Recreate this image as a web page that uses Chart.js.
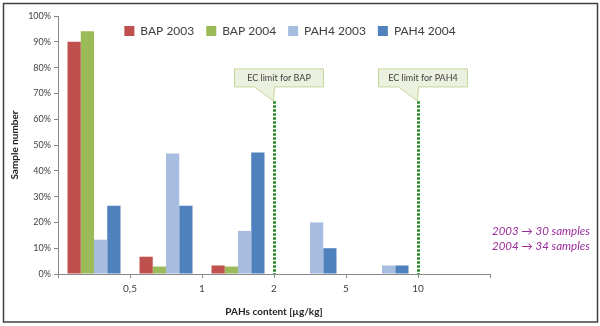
<!DOCTYPE html>
<html>
<head>
<meta charset="utf-8">
<script src="https://cdn.jsdelivr.net/npm/chart.js@4/dist/chart.umd.min.js"></script>
<style>
html,body{margin:0;padding:0;background:#fff;}
#wrap{width:600px;height:326px;position:relative;}
</style>
</head>
<body>
<div id="wrap"><canvas id="c" width="600" height="326"></canvas></div>
<script>
// ---- data ----
const categories = ['0-0,5', '0,5-1', '1-2', '2-5', '5-10', '>10'];
const boundaryLabels = ['', '0,5', '1', '2', '5', '10', ''];
const bap2003 = [90, 6.7, 3.3, 0, 0, 0];
const bap2004 = [94.1, 2.9, 2.9, 0, 0, 0];
const pah2003 = [13.3, 46.7, 16.7, 20, 3.3, 0];
const pah2004 = [26.5, 26.5, 47.1, 10, 3.3, 0];
const ecLimits = [
  { text: 'EC limit for BAP', at: 3 },
  { text: 'EC limit for PAH4', at: 5 }
];
const sampleNotes = ['2003 \u2192 30 samples', '2004 \u2192 34 samples'];

const FONT = 'Lato, "Liberation Sans", sans-serif';

const extras = {
  id: 'extras',
  beforeLayout(chart) {
    const lg = chart.legend;
    if (lg && !lg._zeroPatched) {
      const orig = lg.fit;
      lg.fit = function () { orig.call(this); this._realHeight = this.height; this.height = 0; };
      lg._zeroPatched = true;
    }
  },
  afterLayout(chart) {
    const lg = chart.legend;
    if (lg) {
      lg.left += 16; lg.right += 16;
      lg.top = chart.chartArea.top - 3;
      lg.height = lg._realHeight || 30;
      lg.bottom = lg.top + lg.height;
    }
  },
  beforeDraw(chart) {
    const ctx = chart.ctx;
    ctx.save();
    ctx.fillStyle = '#fff';
    ctx.fillRect(0, 0, chart.width, chart.height);
    ctx.restore();
  },
  afterDraw(chart) {
    const ctx = chart.ctx;
    const xb = chart.scales.xb, y = chart.scales.y;
    ctx.save();
    ecLimits.forEach(l => {
      const px = Math.round(xb.getPixelForValue(l.at)) + 0.5;
      const top = y.getPixelForValue(67);
      const bot = y.getPixelForValue(0);
      ctx.strokeStyle = '#2e8b2e';
      ctx.lineWidth = 3;
      ctx.setLineDash([2.5, 1.5]);
      ctx.beginPath();
      ctx.moveTo(px, top);
      ctx.lineTo(px, bot);
      ctx.stroke();
      ctx.setLineDash([]);
      const bTop = y.getPixelForValue(79.5);
      const bBot = y.getPixelForValue(72.5);
      const left = px - 40, right = px + 49;
      ctx.fillStyle = '#ebf1de';
      ctx.strokeStyle = '#c4d79b';
      ctx.lineWidth = 1;
      ctx.beginPath();
      ctx.moveTo(left, bTop);
      ctx.lineTo(right, bTop);
      ctx.lineTo(right, bBot);
      ctx.lineTo(px, bBot);
      ctx.lineTo(px - 1, top);
      ctx.lineTo(px - 20, bBot);
      ctx.lineTo(left, bBot);
      ctx.closePath();
      ctx.fill();
      ctx.stroke();
      ctx.fillStyle = '#404040';
      ctx.font = '9px ' + FONT;
      ctx.textAlign = 'center';
      ctx.textBaseline = 'middle';
      ctx.fillText(l.text, (left + right) / 2, (bTop + bBot) / 2 + 0.5);
    });
    ctx.fillStyle = '#9b2d9b';
    ctx.font = 'italic 11.5px ' + FONT;
    ctx.textAlign = 'left';
    ctx.textBaseline = 'middle';
    const nx = chart.chartArea.right + 2;
    ctx.fillText(sampleNotes[0], nx, y.getPixelForValue(16.5));
    ctx.fillText(sampleNotes[1], nx, y.getPixelForValue(10.7));
    ctx.strokeStyle = '#404040';
    ctx.lineWidth = 1.5;
    ctx.strokeRect(3.5, 3.5, 594, 318.5);
    ctx.restore();
  }
};

new Chart(document.getElementById('c'), {
  type: 'bar',
  data: {
    labels: categories,
    datasets: [
      { label: 'BAP 2003', data: bap2003, backgroundColor: '#c0504d' },
      { label: 'BAP 2004', data: bap2004, backgroundColor: '#9bbb59' },
      { label: 'PAH4 2003', data: pah2003, backgroundColor: '#a7bde0' },
      { label: 'PAH4 2004', data: pah2004, backgroundColor: '#4f81bd' }
    ]
  },
  options: {
    responsive: false,
    animation: false,
    devicePixelRatio: 1,
    layout: { padding: { left: 5, right: 110, top: 16, bottom: 4 } },
    datasets: { bar: { categoryPercentage: 0.736, barPercentage: 1, borderWidth: 0 } },
    plugins: {
      legend: {
        position: 'top',
        align: 'center',
        fullSize: false,
        labels: {
          boxWidth: 10, boxHeight: 10, padding: 12,
          color: '#404040',
          font: { family: FONT, size: 12 }
        }
      },
      tooltip: { enabled: false }
    },
    scales: {
      x: { display: false },
      xb: {
        type: 'linear', position: 'bottom', min: 0, max: 6, offset: false,
        afterFit(s) { s.height = 48; },
        ticks: {
          stepSize: 1, autoSkip: false, padding: 5, color: '#404040',
          font: { family: FONT, size: 10 },
          callback: v => boundaryLabels[v]
        },
        grid: { offset: false, drawOnChartArea: false, tickLength: 4, color: '#888' },
        border: { color: '#888', width: 1 },
        title: { display: true, text: 'PAHs content [\u00b5g/kg]', color: '#222', padding: { top: 2 },
                 font: { family: FONT, size: 10, weight: 'bold' } }
      },
      y: {
        min: 0, max: 100,
        afterFit(s) { s.width = 53; },
        ticks: { stepSize: 10, padding: 3, color: '#404040', font: { family: FONT, size: 9 }, callback: v => v + '%' },
        grid: { drawOnChartArea: false, tickLength: 4, color: '#888' },
        border: { color: '#888', width: 1 },
        title: { display: true, text: 'Sample number', color: '#222', padding: { bottom: 6 },
                 font: { family: FONT, size: 10, weight: 'bold' } }
      }
    }
  },
  plugins: [extras]
});
</script>
</body>
</html>
